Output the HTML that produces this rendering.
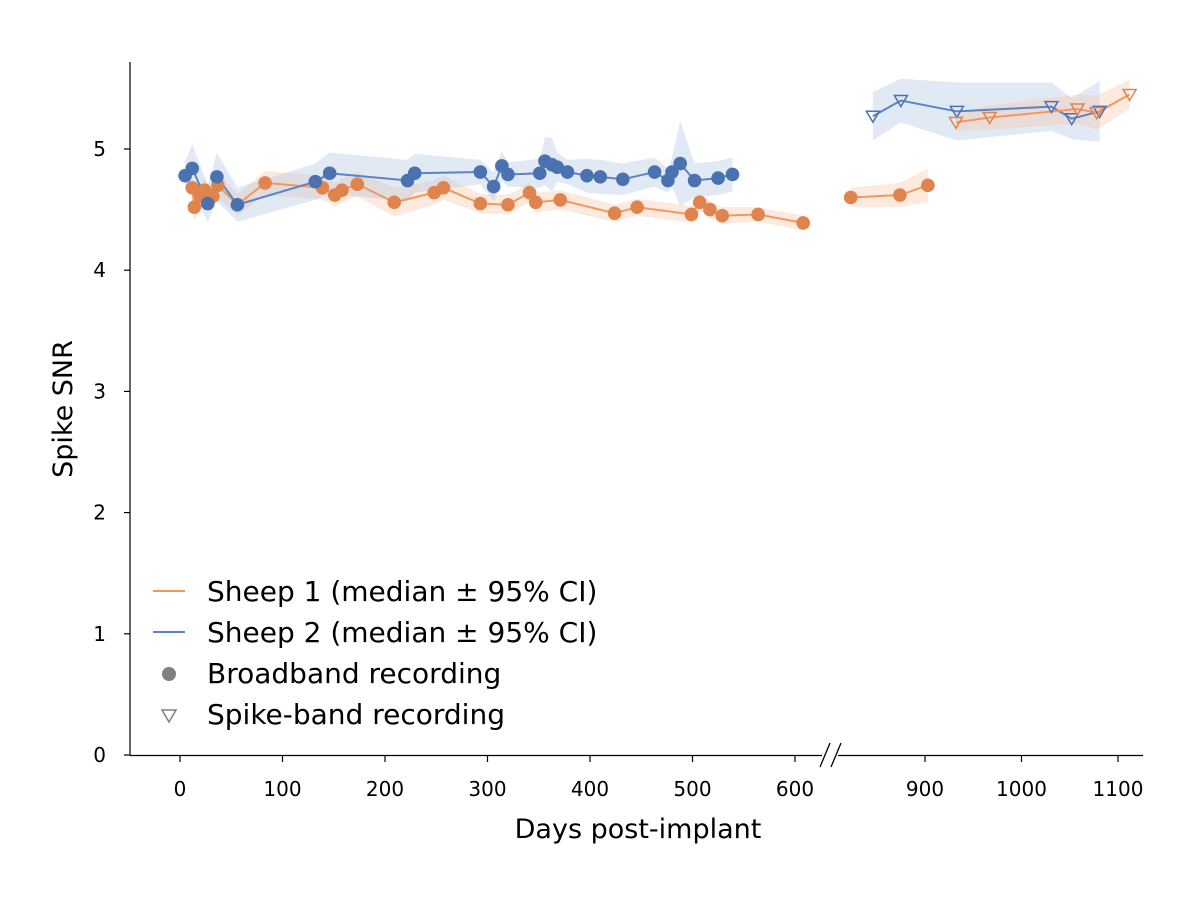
<!DOCTYPE html>
<html><head><meta charset="utf-8"><style>
body{margin:0;background:#fff}
text{font-family:"DejaVu Sans","Liberation Sans",sans-serif;fill:#000}
</style></head><body>
<svg width="1200" height="905" viewBox="0 0 1200 905">
<g id="bands"></g><g id="lines"></g><g id="marks"></g>
<g id="axes"></g>
<g id="legend">
<line x1="153" y1="591" x2="185" y2="591" stroke="#f4975e" stroke-width="2"/>
<text x="207" y="601" font-size="28">Sheep 1 (median ± 95% CI)</text>
<line x1="153" y1="632" x2="185" y2="632" stroke="#5b84c4" stroke-width="2"/>
<text x="207" y="642" font-size="28">Sheep 2 (median ± 95% CI)</text>
<circle cx="169" cy="674" r="7" fill="#808080"/>
<text x="207" y="683" font-size="28">Broadband recording</text>
<path d="M162,710 L176,710 L169,722 Z" fill="none" stroke="#808080" stroke-width="1.5"/>
<text x="207" y="724" font-size="28">Spike-band recording</text>
</g>
</svg>
<script>
// Sheep 2 broadband (left segment)
const b2Days=[5,12,27,36,56,132,146,222,229,293,306,314,320,351,356,363,368,378,397,410,432,463,476,480,488,502,525,539];
const b2Vals=[4.78,4.84,4.55,4.77,4.54,4.73,4.80,4.74,4.80,4.81,4.69,4.86,4.79,4.80,4.90,4.87,4.85,4.81,4.78,4.77,4.75,4.81,4.74,4.81,4.88,4.74,4.76,4.79];
const b2Ci=[0.12,0.2,0.15,0.2,0.14,0.15,0.17,0.17,0.16,0.1,0.12,0.12,0.1,0.12,0.2,0.22,0.12,0.1,0.14,0.14,0.13,0.12,0.1,0.12,0.35,0.14,0.14,0.14];
// Sheep 1 broadband (left segment)
const b1Days=[12,14,20,24,29,32,37,56,83,139,151,158,173,209,248,257,293,320,341,347,371,424,446,499,507,517,529,564,608];
const b1Vals=[4.68,4.52,4.61,4.66,4.60,4.61,4.70,4.54,4.72,4.68,4.62,4.66,4.71,4.56,4.64,4.68,4.55,4.54,4.64,4.56,4.58,4.47,4.52,4.46,4.56,4.50,4.45,4.46,4.39];
const b1Ci=[0.1,0.12,0.1,0.1,0.1,0.1,0.1,0.09,0.1,0.1,0.1,0.1,0.1,0.12,0.1,0.1,0.08,0.08,0.08,0.08,0.08,0.07,0.07,0.07,0.07,0.07,0.07,0.06,0.06];
// Sheep 1 broadband (right segment)
const b1rDays=[823,874,903];
const b1rVals=[4.60,4.62,4.70];
const b1rCi=[0.08,0.1,0.14];
// Spike-band
const s2Days=[846,875,933,1031,1052,1081];
const s2Vals=[5.27,5.40,5.31,5.35,5.25,5.31];
const s2Ci=[0.2,0.18,0.24,0.2,0.17,0.25];
const s1Days=[932,967,1058,1078,1112];
const s1Vals=[5.22,5.26,5.33,5.30,5.45];
const s1Ci=[0.07,0.1,0.12,0.14,0.12];
const yTicks=[0,1,2,3,4,5];
const xTicksL=[0,100,200,300,400,500,600];
const xTicksR=[900,1000,1100];

const NS='http://www.w3.org/2000/svg';
const xs=d=>d<700?180+d*1.025:925+(d-900)*0.965;
const ys=v=>755-v*121.2;
function mk(tag,attrs,parent){const e=document.createElementNS(NS,tag);for(const k in attrs)e.setAttribute(k,attrs[k]);document.getElementById(parent).appendChild(e);return e;}
function series(days,vals,ci,col,lineCol,band,tri,name){
  let top=days.map((d,i)=>xs(d)+','+ys(vals[i]+ci[i]));
  let bot=days.map((d,i)=>xs(d)+','+ys(vals[i]-ci[i])).reverse();
  const p=mk('polygon',{points:top.concat(bot).join(' '),fill:band,'fill-opacity':0.35},'bands');
  
  
  const l=mk('polyline',{points:days.map((d,i)=>xs(d)+','+ys(vals[i])).join(' '),fill:'none',stroke:lineCol,'stroke-width':2},'lines');
  
  
  days.forEach((d,i)=>{
    const x=xs(d),y=ys(vals[i]);let m;
    if(tri){m=mk('path',{d:`M${x-6.5},${y-5} L${x+6.5},${y-5} L${x},${y+6} Z`,fill:'none',stroke:col,'stroke-width':1.5},'marks');}
    else{m=mk('circle',{cx:x,cy:y,r:6.8,fill:col},'marks');}
    
    
  });
}
series(b1Days,b1Vals,b1Ci,'#e0844e','#f4975e','#f8c3a2',false,'sheep1-broadband');
series(b1rDays,b1rVals,b1rCi,'#e0844e','#f4975e','#f8c3a2',false,'sheep1-broadband-late');
series(b2Days,b2Vals,b2Ci,'#4a72b0','#5b84c4','#a9bfe0',false,'sheep2-broadband');
series(s2Days,s2Vals,s2Ci,'#4a72b0','#5b84c4','#a9bfe0',true,'sheep2-spikeband');
series(s1Days,s1Vals,s1Ci,'#e0844e','#f4975e','#f8c3a2',true,'sheep1-spikeband');

// axes
let e=mk('line',{x1:130,y1:62,x2:130,y2:755,stroke:'#000','stroke-width':1.2},'axes');

e=mk('line',{x1:130,y1:755.5,x2:1143,y2:755.5,stroke:'#000','stroke-width':1.2},'axes');

mk('rect',{x:822,y:750,width:16,height:12,fill:'#fff'},'axes');
e=mk('path',{d:'M820,767 L830,743 M831,767 L841,743',stroke:'#000','stroke-width':1.3,fill:'none'},'axes');

yTicks.forEach(v=>{
  mk('line',{x1:124,y1:ys(v),x2:130,y2:ys(v),stroke:'#000','stroke-width':1.2},'axes');
  const t=mk('text',{x:106,y:ys(v)+7,'font-size':20,'text-anchor':'end'},'axes');t.textContent=v;
  
});
xTicksL.concat(xTicksR).forEach(d=>{
  mk('line',{x1:xs(d),y1:756,x2:xs(d),y2:762,stroke:'#000','stroke-width':1.2},'axes');
  const t=mk('text',{x:xs(d),y:796,'font-size':20,'text-anchor':'middle'},'axes');t.textContent=d;
  
});
let t=mk('text',{x:638,y:838,'font-size':27,'text-anchor':'middle'},'axes');t.textContent='Days post-implant';

t=mk('text',{x:0,y:0,'font-size':27,'text-anchor':'middle',transform:'translate(72,409) rotate(-90)'},'axes');t.textContent='Spike SNR';

</script>
</body></html>
